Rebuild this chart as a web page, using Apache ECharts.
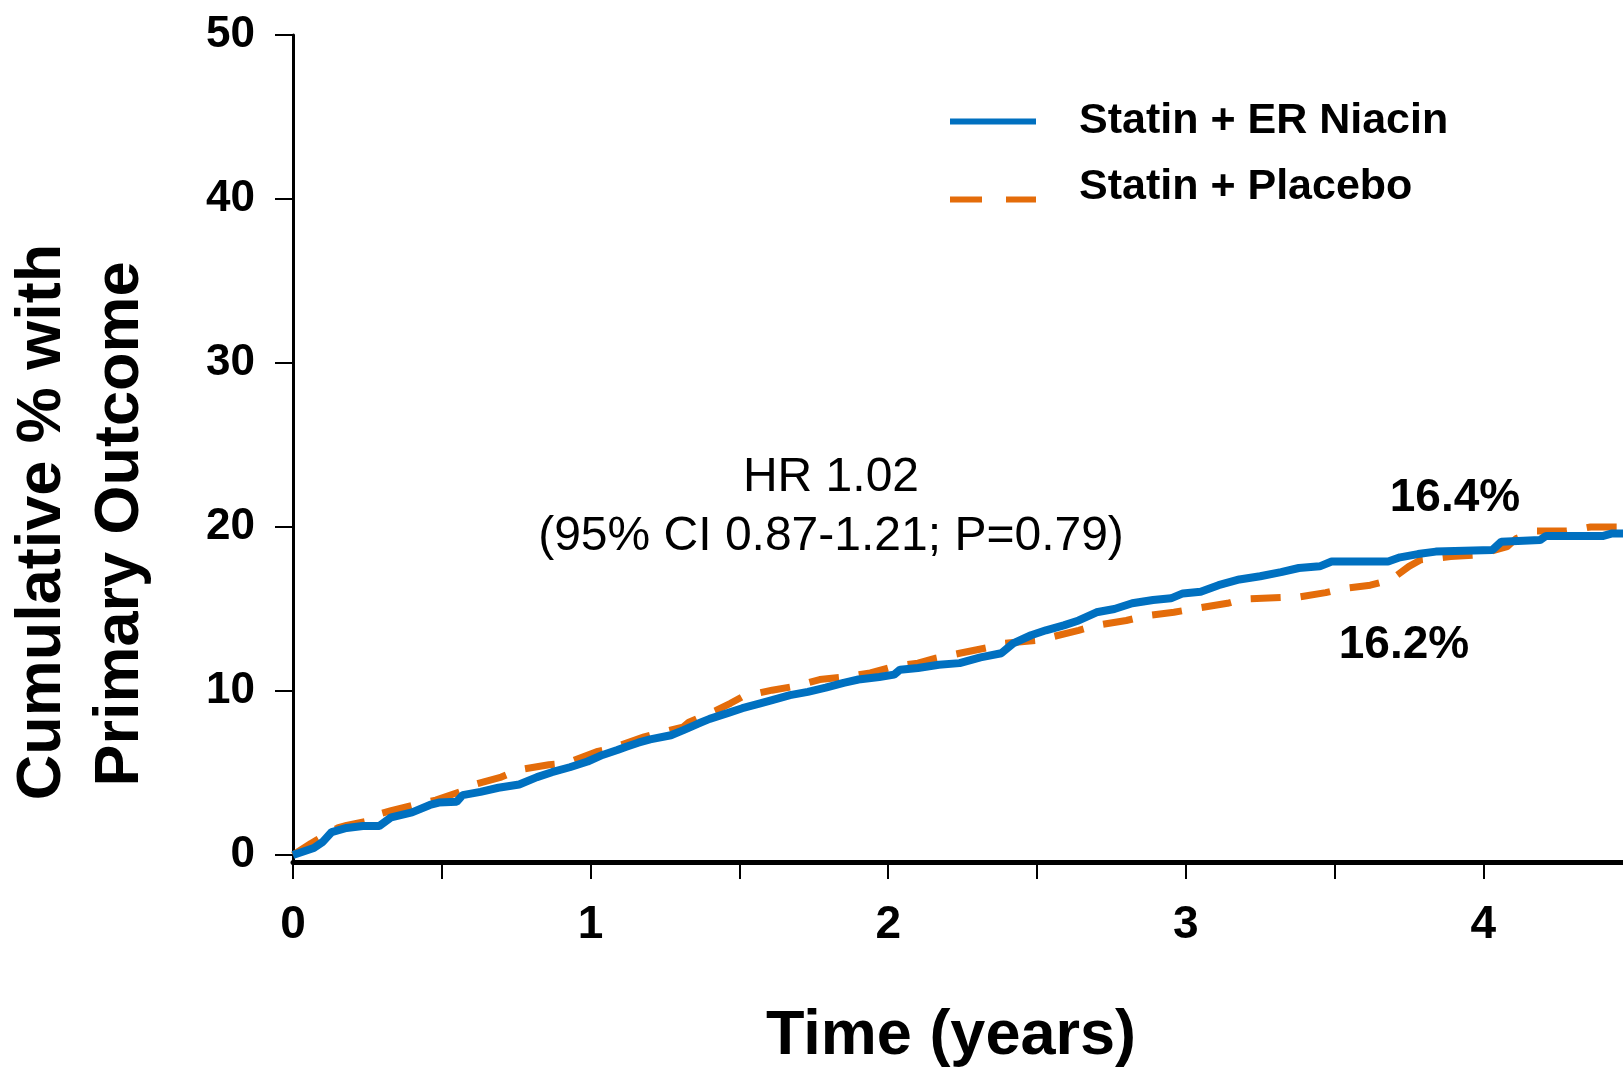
<!DOCTYPE html>
<html>
<head>
<meta charset="utf-8">
<script src="https://cdn.jsdelivr.net/npm/echarts@6/dist/echarts.min.js"></script>
<style>
  html, body { margin: 0; padding: 0; background: #ffffff; }
  #chart { width: 1623px; height: 1070px; }
</style>
</head>
<body>
<div id="chart"></div>
<script>
// Kaplan-Meier style cumulative incidence, % with primary outcome by year
const niacinTime = [0, 0.07, 0.10, 0.13, 0.18, 0.235, 0.29, 0.33, 0.40, 0.46, 0.49, 0.55, 0.57, 0.63, 0.69, 0.76,
  0.82, 0.87, 0.93, 0.99, 1.04, 1.09, 1.12, 1.16, 1.20, 1.27, 1.31, 1.36, 1.40, 1.46, 1.51, 1.57, 1.61, 1.67,
  1.73, 1.79, 1.85, 1.90, 1.97, 2.02, 2.04, 2.10, 2.17, 2.24, 2.31, 2.38, 2.42, 2.48, 2.53, 2.59, 2.64, 2.70,
  2.76, 2.82, 2.89, 2.95, 2.99, 3.05, 3.11, 3.18, 3.25, 3.32, 3.38, 3.45, 3.49, 3.68, 3.72, 3.78, 3.84, 4.03,
  4.06, 4.19, 4.21, 4.40, 4.43, 4.50];
const niacinPct = [0, 0.43, 0.8, 1.4, 1.65, 1.77, 1.77, 2.3, 2.6, 3.05, 3.2, 3.25, 3.65, 3.85, 4.1, 4.3,
  4.75, 5.05, 5.35, 5.7, 6.1, 6.4, 6.6, 6.85, 7.05, 7.3, 7.6, 8.0, 8.3, 8.65, 8.95, 9.25, 9.45, 9.75,
  9.95, 10.2, 10.5, 10.7, 10.85, 11.0, 11.3, 11.4, 11.6, 11.7, 12.05, 12.3, 12.9, 13.4, 13.7, 14.0, 14.3, 14.8,
  15.0, 15.35, 15.55, 15.65, 15.95, 16.05, 16.45, 16.8, 17.0, 17.25, 17.5, 17.6, 17.9, 17.9, 18.15, 18.35, 18.5, 18.6,
  19.1, 19.2, 19.45, 19.45, 19.6, 19.6];

const placeboTime = [0, 0.06, 0.15, 0.18, 0.26, 0.29, 0.33, 0.44, 0.48, 0.56, 0.60, 0.70, 0.76, 0.86, 0.92,
  1.02, 1.07, 1.18, 1.20, 1.31, 1.33, 1.42, 1.47, 1.53, 1.57, 1.61, 1.69, 1.77, 1.85, 1.94, 2.02, 2.10, 2.16,
  2.24, 2.35, 2.39, 2.51, 2.55, 2.64, 2.70, 2.80, 2.87, 2.96, 3.04, 3.14, 3.19, 3.32, 3.37, 3.47, 3.53, 3.62,
  3.69, 3.75, 3.79, 3.89, 3.98, 4.08, 4.11, 4.18, 4.28, 4.36, 4.50];
const placeboPct = [0, 0.7, 1.65, 1.8, 2.1, 2.5, 2.7, 3.2, 3.35, 3.85, 4.25, 4.75, 5.2, 5.5, 5.6,
  6.3, 6.5, 7.2, 7.3, 7.8, 8.1, 8.8, 9.25, 9.85, 9.9, 10.05, 10.3, 10.7, 10.85, 11.1, 11.5, 11.7, 12.0,
  12.3, 12.7, 12.9, 13.1, 13.3, 13.7, 14.0, 14.3, 14.6, 14.8, 15.05, 15.35, 15.6, 15.7, 15.7, 16.0, 16.25, 16.45,
  16.8, 17.6, 18.0, 18.2, 18.3, 18.8, 19.3, 19.75, 19.75, 20.0, 20.0];

const seriesNames = ['Statin + ER Niacin', 'Statin + Placebo'];
const pctTicks = [0, 10, 20, 30, 40, 50];
const hazardText = ['HR 1.02', '(95% CI 0.87-1.21; P=0.79)'];
const eventRates = ['16.4%', '16.2%'];
const yTitle = ['Cumulative % with', 'Primary Outcome'];
const xTitle = 'Time (years)';

const FONT = '"Liberation Sans", Arial, Helvetica, sans-serif';
const BLUE = '#0070C0';
const ORANGE = '#E46C0A';

const pairs = (t, v) => t.map((x, i) => [x, v[i]]);

const chart = echarts.init(document.getElementById('chart'), null, { renderer: 'canvas' });

chart.setOption({
  backgroundColor: '#ffffff',
  animation: false,
  textStyle: { fontFamily: FONT },
  grid: { left: 293, top: 35, width: 1488, height: 827, containLabel: false, outerBoundsMode: 'none' },
  xAxis: {
    type: 'value',
    min: 0,
    max: 5,
    interval: 0.5,
    axisLine: { onZero: false, lineStyle: { color: '#000', width: 5 } },
    axisTick: { length: 17, lineStyle: { color: '#000', width: 2 } },
    axisLabel: {
      margin: 40,
      fontSize: 46,
      fontWeight: 'bold',
      color: '#000',
      fontFamily: FONT,
      formatter: v => (Number.isInteger(v) ? String(v) : '')
    },
    splitLine: { show: false }
  },
  yAxis: {
    type: 'value',
    min: -0.4268,
    max: 50,
    axisLine: { show: true, lineStyle: { color: '#000', width: 3 } },
    axisTick: { show: true, length: 18, customValues: pctTicks, lineStyle: { color: '#000', width: 2 } },
    axisLabel: {
      margin: 38,
      fontSize: 44,
      fontWeight: 'bold',
      color: '#000',
      fontFamily: FONT,
      customValues: pctTicks
    },
    splitLine: { show: false }
  },
  legend: [
    {
      data: [seriesNames[0]],
      left: 947,
      top: 100,
      itemWidth: 86,
      itemHeight: 6,
      padding: 0,
      lineStyle: { width: 6 },
      itemStyle: { color: 'transparent', borderWidth: 0 },
      textStyle: { fontSize: 43, fontWeight: 'bold', color: '#000', fontFamily: FONT, padding: [0, 0, 0, 38] }
    },
    {
      // the placebo key sits a little below its label: a blank second line lifts the text
      data: [seriesNames[1]],
      left: 947,
      top: 166,
      itemWidth: 86,
      itemHeight: 6,
      padding: 0,
      formatter: name => name + '\n ',
      lineStyle: { width: 6, type: [32, 24] },
      itemStyle: { color: 'transparent', borderWidth: 0 },
      textStyle: { fontSize: 43, lineHeight: 24, fontWeight: 'bold', color: '#000', fontFamily: FONT, padding: [0, 0, 0, 38] }
    }
  ],
  series: [
    {
      name: seriesNames[1],
      type: 'line',
      data: pairs(placeboTime, placeboPct),
      symbol: 'none',
      z: 2,
      lineStyle: { color: ORANGE, width: 7, type: [30, 20] },
      itemStyle: { color: ORANGE }
    },
    {
      name: seriesNames[0],
      type: 'line',
      data: pairs(niacinTime, niacinPct),
      symbol: 'none',
      z: 3,
      lineStyle: { color: BLUE, width: 8 },
      itemStyle: { color: BLUE }
    }
  ],
  graphic: [
    { type: 'text', x: 831, y: 478, style: { text: hazardText[0], font: '48px ' + FONT, fill: '#000', align: 'center', verticalAlign: 'middle' } },
    { type: 'text', x: 831, y: 537, style: { text: hazardText[1], font: '48px ' + FONT, fill: '#000', align: 'center', verticalAlign: 'middle' } },
    { type: 'text', x: 1455, y: 498, style: { text: eventRates[0], font: 'bold 46px ' + FONT, fill: '#000', align: 'center', verticalAlign: 'middle' } },
    { type: 'text', x: 1404, y: 645, style: { text: eventRates[1], font: 'bold 46px ' + FONT, fill: '#000', align: 'center', verticalAlign: 'middle' } },
    { type: 'text', x: 951, y: 1037, style: { text: xTitle, font: 'bold 63px ' + FONT, fill: '#000', align: 'center', verticalAlign: 'middle' } },
    { type: 'text', x: 43, y: 522, rotation: Math.PI / 2, style: { text: yTitle[0], font: 'bold 63px ' + FONT, fill: '#000', align: 'center', verticalAlign: 'middle' } },
    { type: 'text', x: 121, y: 524, rotation: Math.PI / 2, style: { text: yTitle[1], font: 'bold 63px ' + FONT, fill: '#000', align: 'center', verticalAlign: 'middle' } }
  ]
});
</script>
</body>
</html>
